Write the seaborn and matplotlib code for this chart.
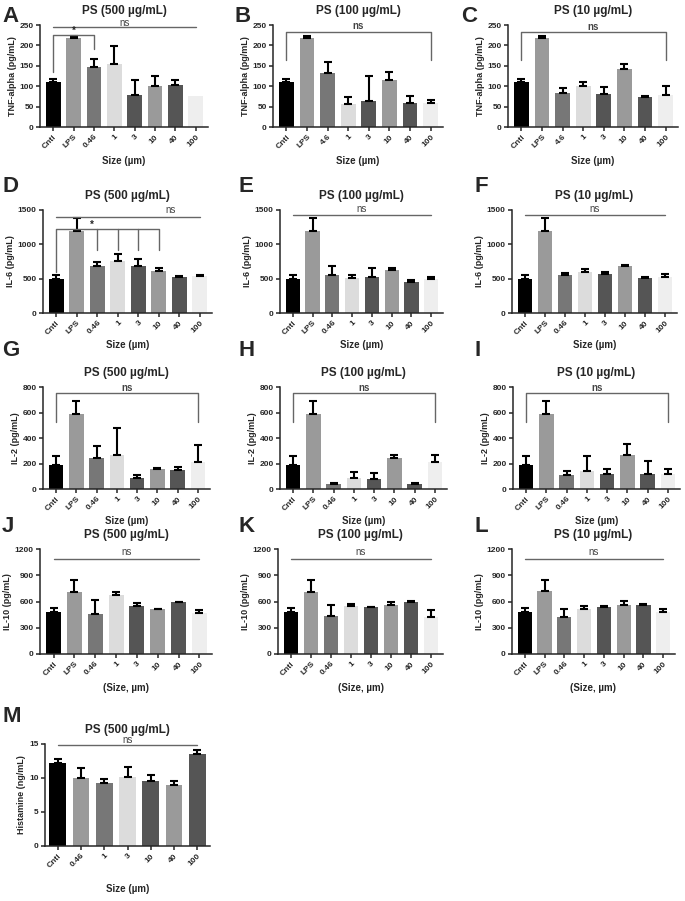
import numpy as np
import pandas as pd
import matplotlib
matplotlib.use("Agg")
import matplotlib.pyplot as plt
import seaborn as sns

# ---------------- data ----------------
cats_a = ["Cntl", "LPS", "0.46", "1", "3", "10", "40", "100"]
cats_bc = ["Cntl", "LPS", "4.6", "1", "3", "10", "40", "100"]
cats_m = ["Cntl", "0.46", "1", "3", "10", "40", "100"]

colors_8 = ["#000000", "#9a9a9a", "#777777", "#dcdcdc", "#555555", "#9a9a9a", "#555555", "#eeeeee"]
colors_m = ["#000000", "#9a9a9a", "#777777", "#dcdcdc", "#555555", "#9a9a9a", "#555555"]

# TNF-alpha (pg/mL)
tnf_500 = [110, 217, 147, 155, 79, 101, 104, 77]
tnf_500_err = [7, 6, 20, 43, 36, 24, 12, 0]
tnf_100 = [110, 217, 132, 57, 64, 115, 60, 58]
tnf_100_err = [7, 6, 28, 16, 61, 19, 16, 9]
tnf_10 = [110, 217, 84, 101, 81, 142, 74, 78]
tnf_10_err = [7, 6, 12, 9, 16, 13, 3, 22]

# IL-6 (pg/mL)
il6_500 = [500, 1190, 680, 760, 690, 610, 525, 540]
il6_500_err = [60, 190, 65, 100, 100, 50, 15, 15]
il6_100 = [500, 1190, 550, 510, 520, 630, 450, 500]
il6_100_err = [55, 190, 130, 40, 140, 20, 35, 30]
il6_10 = [500, 1190, 550, 595, 570, 680, 510, 525]
il6_10_err = [55, 190, 30, 40, 20, 20, 10, 50]

# IL-2 (pg/mL)
il2_500 = [190, 585, 245, 270, 85, 155, 150, 215]
il2_500_err = [65, 105, 95, 210, 25, 8, 25, 130]
il2_100 = [190, 585, 40, 85, 80, 240, 40, 210]
il2_100_err = [65, 105, 10, 45, 45, 25, 8, 55]
il2_10 = [190, 585, 110, 140, 120, 270, 115, 120]
il2_10_err = [65, 105, 35, 115, 35, 85, 105, 35]

# IL-10 (pg/mL)
il10_500 = [480, 710, 455, 670, 550, 510, 595, 465]
il10_500_err = [50, 140, 165, 35, 30, 10, 5, 40]
il10_100 = [480, 710, 430, 550, 535, 565, 595, 420]
il10_100_err = [50, 140, 130, 20, 5, 35, 8, 80]
il10_10 = [480, 715, 420, 520, 540, 560, 565, 485]
il10_10_err = [50, 135, 90, 30, 8, 50, 5, 25]

# Histamine (ng/mL)
hist_500 = [12.2, 10.0, 9.2, 10.2, 9.5, 8.9, 13.5]
hist_500_err = [0.6, 1.5, 0.7, 1.4, 0.9, 0.7, 0.6]

# ---------------- style ----------------
sns.set_style("ticks")
plt.rcParams["font.family"] = ["Liberation Sans", "DejaVu Sans"]
plt.rcParams["font.weight"] = "bold"

W, H = 685, 901
fig = plt.figure(figsize=(W / 100, H / 100), dpi=100)


def make_ax(l, t, r, b):
    return fig.add_axes([l / W, 1 - b / H, (r - l) / W, (b - t) / H])


def draw_panel(box, letter, letter_xy, title, cats, vals, errs, colors, ylabel,
               yticks, xlabel, xlabel_y):
    ax = make_ax(*box)
    df = pd.DataFrame({"cat": cats, "val": vals})
    sns.barplot(data=df, x="cat", y="val", hue="cat", palette=colors, legend=False,
                errorbar=None, width=0.72, linewidth=0, ax=ax)
    pos = np.arange(len(cats))
    errs = np.array(errs, dtype=float)
    keep = errs > 0
    ax.errorbar(pos[keep], np.array(vals)[keep],
                yerr=[np.zeros(keep.sum()), errs[keep]],
                fmt="none", ecolor="black", elinewidth=1.5, capsize=3, capthick=1.5,
                zorder=1)
    ax.set_ylim(0, yticks[-1])
    ax.set_yticks(yticks)
    ax.set_xlim(-0.65, len(cats) - 0.4)
    ax.set_ylabel(ylabel, fontsize=6.5, fontweight="bold", labelpad=2)
    ax.set_xlabel(xlabel, fontsize=7, fontweight="bold")
    l, t, r, b = box
    ax.xaxis.set_label_coords(0.5, -(xlabel_y - 4 - b) / (b - t))
    ax.set_title(title, fontsize=8.5, fontweight="bold", pad=8)
    ax.set_xticks(pos)
    ax.set_xticklabels(cats, rotation=45, ha="right", rotation_mode="anchor",
                       fontsize=6, fontweight="bold")
    for lab in ax.get_yticklabels():
        lab.set_fontsize(6)
        lab.set_fontweight("bold")
    ax.tick_params(width=1.1, length=3, pad=1.5)
    for s in ["left", "bottom"]:
        ax.spines[s].set_linewidth(1.1)
    sns.despine(ax=ax)
    fig.text(letter_xy[0] / W, 1 - letter_xy[1] / H, letter, fontsize=16,
             fontweight="bold", ha="left", va="top")
    return ax


def ns_line(ax, x0, x1, y, ty, tx):
    ax.plot([x0, x1], [y, y], color="#666666", lw=1, clip_on=False)
    ax.text(tx, ty, "ns", fontsize=7, fontweight="normal", color="#444444",
            ha="center", va="bottom", clip_on=False)


def bracket(ax, x0, x1, y, y0, y1, color="#666666"):
    ax.plot([x0, x0, x1, x1], [y0, y, y, y1], color=color, lw=1, clip_on=False)


# ---------------- row 1 : TNF-alpha ----------------
tnf_ticks = [0, 50, 100, 150, 200, 250]
ax = draw_panel((40, 25, 208, 127), "A", (2, 6), "PS (500 µg/mL)", cats_a, tnf_500,
                tnf_500_err, colors_8, "TNF-alpha (pg/mL)", tnf_ticks, "Size (µm)", 160)
ns_line(ax, 0, 7, 246, 242, 3.5)
bracket(ax, 0, 2, 225, 136, 190)
ax.text(1, 224, "*", fontsize=7, ha="center", va="bottom")

ax = draw_panel((273, 25, 443, 127), "B", (234, 6), "PS (100 µg/mL)", cats_bc, tnf_100,
                tnf_100_err, colors_8, "TNF-alpha (pg/mL)", tnf_ticks, "Size (µm)", 160)
bracket(ax, 0, 7, 234, 164, 164)
ax.text(3.5, 236, "ns", fontsize=7, color="#444444", ha="center", va="bottom")

ax = draw_panel((508, 25, 678, 127), "C", (461, 6), "PS (10 µg/mL)", cats_bc, tnf_10,
                tnf_10_err, colors_8, "TNF-alpha (pg/mL)", tnf_ticks, "Size (µm)", 160)
bracket(ax, 0, 7, 232, 164, 164)
ax.text(3.5, 234, "ns", fontsize=7, color="#444444", ha="center", va="bottom")

# ---------------- row 2 : IL-6 ----------------
il6_ticks = [0, 500, 1000, 1500]
ax = draw_panel((43, 210, 212, 313), "D", (2, 176), "PS (500 µg/mL)", cats_a, il6_500,
                il6_500_err, colors_8, "IL-6 (pg/mL)", il6_ticks, "Size (µm)", 344)
ns_line(ax, 0, 7, 1393, 1420, 5.6)
bracket(ax, 0, 5, 1218, 600, 915)
for p in [2, 3, 4]:
    ax.plot([p, p], [915, 1218], color="#666666", lw=1)
ax.text(1.75, 1215, "*", fontsize=7, ha="center", va="bottom")

ax = draw_panel((280, 210, 443, 313), "E", (238, 176), "PS (100 µg/mL)", cats_a, il6_100,
                il6_100_err, colors_8, "IL-6 (pg/mL)", il6_ticks, "Size (µm)", 344)
ns_line(ax, 0, 7, 1420, 1440, 3.5)

ax = draw_panel((512, 210, 677, 313), "F", (474, 176), "PS (10 µg/mL)", cats_a, il6_10,
                il6_10_err, colors_8, "IL-6 (pg/mL)", il6_ticks, "Size (µm)", 344)
ns_line(ax, 0, 7, 1420, 1440, 3.5)

# ---------------- row 3 : IL-2 ----------------
il2_ticks = [0, 200, 400, 600, 800]
ax = draw_panel((43, 387, 210, 489), "G", (2, 340), "PS (500 µg/mL)", cats_a, il2_500,
                il2_500_err, colors_8, "IL-2 (pg/mL)", il2_ticks, "Size (µm)", 520)
bracket(ax, 0, 7, 756, 527, 527)
ax.text(3.5, 755, "ns", fontsize=7, color="#444444", ha="center", va="bottom")

ax = draw_panel((280, 387, 447, 489), "H", (238, 340), "PS (100 µg/mL)", cats_a, il2_100,
                il2_100_err, colors_8, "IL-2 (pg/mL)", il2_ticks, "Size (µm)", 520)
bracket(ax, 0, 7, 756, 527, 527)
ax.text(3.5, 755, "ns", fontsize=7, color="#444444", ha="center", va="bottom")

ax = draw_panel((513, 387, 680, 489), "I", (474, 340), "PS (10 µg/mL)", cats_a, il2_10,
                il2_10_err, colors_8, "IL-2 (pg/mL)", il2_ticks, "Size (µm)", 520)
bracket(ax, 0, 7, 756, 527, 527)
ax.text(3.5, 755, "ns", fontsize=7, color="#444444", ha="center", va="bottom")

# ---------------- row 4 : IL-10 ----------------
il10_ticks = [0, 300, 600, 900, 1200]
ax = draw_panel((40, 549, 212, 654), "J", (2, 516), "PS (500 µg/mL)", cats_a, il10_500,
                il10_500_err, colors_8, "IL-10 (pg/mL)", il10_ticks, "(Size, µm)", 687)
ns_line(ax, 0, 7, 1090, 1105, 3.5)

ax = draw_panel((278, 549, 443, 654), "K", (238, 516), "PS (100 µg/mL)", cats_a, il10_100,
                il10_100_err, colors_8, "IL-10 (pg/mL)", il10_ticks, "(Size, µm)", 687)
ns_line(ax, 0, 7, 1090, 1105, 3.5)

ax = draw_panel((512, 549, 675, 654), "L", (474, 516), "PS (10 µg/mL)", cats_a, il10_10,
                il10_10_err, colors_8, "IL-10 (pg/mL)", il10_ticks, "(Size, µm)", 687)
ns_line(ax, 0, 7, 1090, 1105, 3.5)

# ---------------- row 5 : Histamine ----------------
ax = draw_panel((45, 744, 210, 846), "M", (2, 706), "PS (500 µg/mL)", cats_m, hist_500,
                hist_500_err, colors_m, "Histamine (ng/mL)", [0, 5, 10, 15], "Size (µm)", 888)
ax.set_xlim(-0.55, 6.55)
ns_line(ax, 0, 6, 14.85, 14.9, 3)

fig.savefig("out.png", dpi=100)
